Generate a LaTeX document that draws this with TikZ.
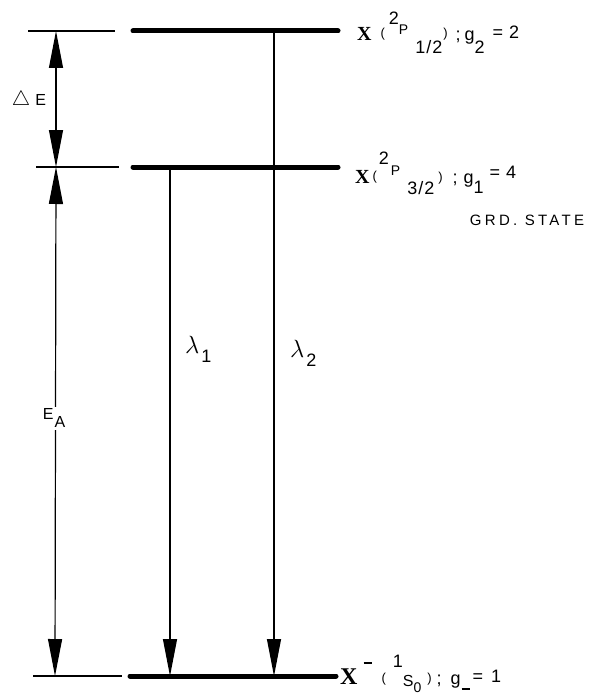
\documentclass[tikz,border=0pt]{standalone}
\usepackage{fontspec}
\setmainfont{Liberation Sans}
\newfontfamily\serifx{Liberation Serif}
\usetikzlibrary{positioning, arrows.meta}

\newcommand{\xbig}{\fontsize{20}{20}\selectfont\serifx\bfseries}
\newcommand{\xhuge}{\fontsize{24}{24}\selectfont\serifx\bfseries}
\newcommand{\lblsm}{\fontsize{13}{13}\selectfont}
\newcommand{\lblmd}{\fontsize{14}{14}\selectfont}

\begin{document}
\begin{tikzpicture}[
    x=1pt, y=-1pt,
    level/.style={
        line width=5pt,
        line cap=round
    },
    tickline/.style={
        line width=1.2pt
    },
    trans/.style={
        -{Triangle[length=37pt, width=14pt]},
        line width=1.2pt
    },
    span/.style={
        {Triangle[length=37pt, width=14pt]}-{Triangle[length=37pt, width=14pt]},
        line width=1.2pt
    },
    statelbl/.style={
        anchor=base west,
        inner sep=0pt,
        font=\fontsize{18}{18}\selectfont
    },
    elbl/.style={
        inner sep=2pt,
        font=\fontsize{16}{16}\selectfont
    }
]
\useasboundingbox (0,0) rectangle (590,698);

% Level ends
\coordinate (up-l) at (133,31);
\coordinate (up-r) at (338,31);
\coordinate (mid-l) at (133,167);
\coordinate (mid-r) at (338,167);
\coordinate (bot-l) at (130,676);
\coordinate (bot-r) at (336,676);

% Left ticks
\coordinate (upt-l) at (28,31);
\coordinate (upt-r) at (115,31);
\coordinate (midt-l) at (36,167);
\coordinate (midt-r) at (119,167);
\coordinate (bott-l) at (33,676);
\coordinate (bott-r) at (122,676);

% Arrow ends
\coordinate (de-up) at (56,31);
\coordinate (de-bot) at (56,167);
\coordinate (ea-bot) at (55,676);
\coordinate (l1-up) at (170,167);
\coordinate (l1-bot) at (170,676);
\coordinate (l2-up) at (274,31);
\coordinate (l2-bot) at (274,676);

% Levels
\draw [level] (up-l) -- (up-r);
\draw [level] (mid-l) -- (mid-r);
\draw [level] (bot-l) -- (bot-r);
\draw [tickline] (upt-l) -- (upt-r);
\draw [tickline] (midt-l) -- (midt-r);
\draw [tickline] (bott-l) -- (bott-r);

% Transitions
\draw [trans] (l1-up) -- (l1-bot);
\draw [trans] (l2-up) -- (l2-bot);

% Energy spans
\draw [span] (de-up) -- (de-bot);
\draw [span] (de-bot) -- (ea-bot);

% Labels
\node (dE) at (29,100) [elbl] {{\fontsize{21}{21}\selectfont$\triangle$}\hspace{5pt}E};
\node (EA) at (54,418) [elbl, fill=white] {E\hspace{1pt}\raisebox{-8pt}{A}};
\node (lam1) at (185,353) [statelbl] {{\fontsize{27}{27}\selectfont$\lambda$}\hspace{2pt}\raisebox{-9pt}{1}};
\node (lam2) at (290,357) [statelbl] {{\fontsize{27}{27}\selectfont$\lambda$}\hspace{2pt}\raisebox{-9pt}{2}};

\node (lup) at (357,41) [statelbl] {{\xbig X}\hspace{9pt}\raisebox{3pt}{\lblsm(}\hspace{4pt}\raisebox{16pt}{2}\raisebox{6pt}{\lblmd P}\hspace{7pt}\raisebox{-13pt}{1\hspace{1pt}/\hspace{1pt}2}\hspace{1pt}\raisebox{3pt}{\lblsm)}\hspace{8pt};\hspace{4pt}g\raisebox{-13pt}{2}\hspace{8pt}\raisebox{2pt}{=}\hspace{6pt}\raisebox{2pt}{2}};
\node (lmid) at (355,183) [statelbl] {{\xbig X}\hspace{3pt}\raisebox{3pt}{\lblsm(}\hspace{2pt}\raisebox{19pt}{2}\hspace{2pt}\raisebox{8pt}{\lblmd P}\hspace{7pt}\raisebox{-11pt}{3\hspace{1pt}/\hspace{1pt}2}\hspace{4pt}\raisebox{2pt}{\lblsm)}\hspace{10pt};\hspace{6pt}g\raisebox{-10pt}{1}\hspace{6pt}\raisebox{5pt}{=}\hspace{6pt}\raisebox{5pt}{4}};
\node (grd) at (527,220) [elbl, font=\fontsize{15}{15}\selectfont\addfontfeatures{LetterSpace=22}] {GRD. STATE};
\node (lbot) at (340,684) [statelbl] {{\xhuge X}\hspace{6pt}\raisebox{20pt}{\rule{8pt}{2.5pt}}\hspace{10pt}\raisebox{2pt}{\lblsm(}\hspace{7pt}\raisebox{17pt}{1}{\fontsize{16}{16}\selectfont\raisebox{-2pt}{S}}\raisebox{-8pt}{\lblmd 0}\hspace{6pt}\raisebox{2pt}{\lblsm)}\hspace{5pt};\hspace{9pt}g\hspace{1pt}\raisebox{-6pt}{\rule{8pt}{2.5pt}}\hspace{3pt}\raisebox{2pt}{=}\hspace{8pt}\raisebox{2pt}{1}};

\end{tikzpicture}
\end{document}
